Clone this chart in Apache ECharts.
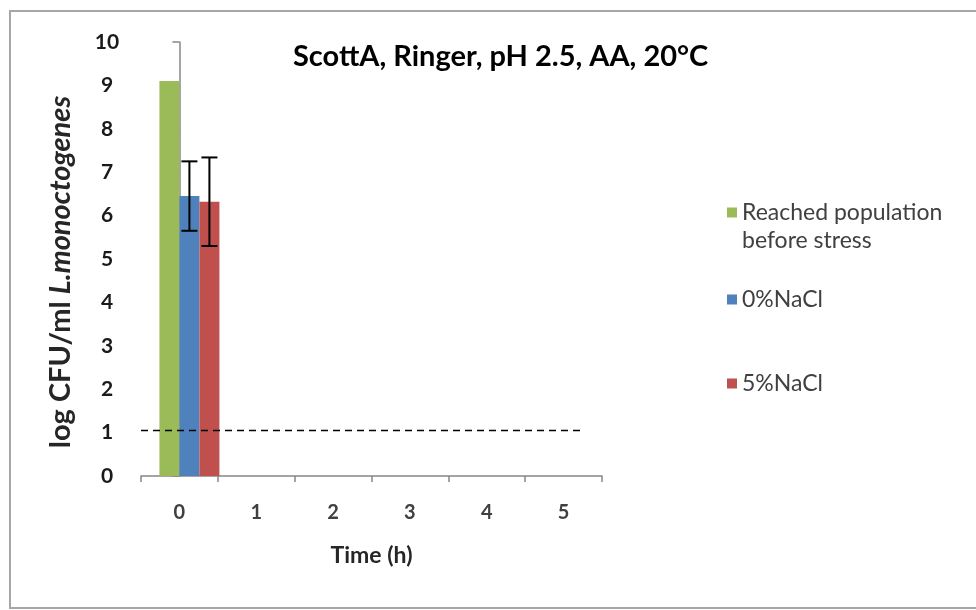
<!DOCTYPE html>
<html>
<head>
<meta charset="utf-8">
<script src="https://cdn.jsdelivr.net/npm/echarts@6/dist/echarts.min.js"></script>
<style>
  html, body { margin: 0; padding: 0; background: #ffffff; }
  #chart { width: 976px; height: 610px; }
</style>
</head>
<body>
<div id="chart"></div>
<script>
// Sampling times (h) on the category axis
const timeLabels = ['0', '1', '2', '3', '4', '5'];

// Series names as shown in the legend
const seriesNames = ['Reached population before stress', '0%NaCl', '5%NaCl'];

// log CFU/ml per sampling time (null = below detection, no bar)
const beforeStress = [9.1, null, null, null, null, null];
const nacl0 = [6.45, null, null, null, null, null];
const nacl5 = [6.32, null, null, null, null, null];

// Standard deviations for the stressed populations
const nacl0Err = [0.8, null, null, null, null, null];
const nacl5Err = [1.02, null, null, null, null, null];

// Detection limit (log CFU/ml) and the time span the dashed line covers
const detectionLimit = 1.05;
const limitSpan = [-0.5, 5.24];

// Y axis range
const yMin = 0, yMax = 10, yStep = 1;

const FONT = 'Lato, "Open Sans", sans-serif';
const BAR_W = 20;
const COLORS = ['#9bbb59', '#4f81bd', '#c0504d'];

const chart = echarts.init(document.getElementById('chart'), null, { renderer: 'canvas' });

// Error bars centred on a given bar slot of the four-slot cluster
function errorBarSeries(values, errs, slot) {
  const data = [];
  values.forEach((v, i) => {
    if (v != null && errs[i] != null) data.push([i, v, errs[i]]);
  });
  const offset = BAR_W * (slot - 1.5);
  return {
    type: 'custom',
    xAxisIndex: 0,
    yAxisIndex: 0,
    silent: true,
    z: 5,
    data: data,
    renderItem: function (params, api) {
      const i = api.value(0), m = api.value(1), e = api.value(2);
      const top = api.coord([i, m + e]);
      const bot = api.coord([i, m - e]);
      const x = top[0] + offset;
      const cap = 8;
      const style = { stroke: '#000000', lineWidth: 2 };
      return {
        type: 'group',
        children: [
          { type: 'line', shape: { x1: x, y1: top[1], x2: x, y2: bot[1] }, style: style },
          { type: 'line', shape: { x1: x - cap, y1: top[1], x2: x + cap, y2: top[1] }, style: style },
          { type: 'line', shape: { x1: x - cap, y1: bot[1], x2: x + cap, y2: bot[1] }, style: style }
        ]
      };
    }
  };
}

// One legend block per series; multi-line labels keep the swatch beside the first line
function legendBox(name, iconCenterY, lines) {
  const LH = 28;
  const text = lines.length > 1
    ? '{t|}\n' + lines.map(l => '{t|' + l + '}').join('\n')
    : '{t|' + lines[0] + '}';
  const rows = lines.length > 1 ? lines.length + 1 : 1;
  // the label block is centred on the swatch
  const blockTop = iconCenterY - (rows * LH) / 2;
  return {
    data: [name],
    orient: 'vertical',
    left: 727,
    top: Math.round(blockTop),
    padding: 0,
    icon: 'rect',
    itemWidth: 10,
    itemHeight: 10,
    selectedMode: false,
    formatter: function () { return text; },
    textStyle: {
      rich: {
        t: { fontFamily: FONT, fontSize: 23, color: '#404040', lineHeight: LH }
      }
    }
  };
}

const option = {
  backgroundColor: '#ffffff',
  animation: false,
  title: {
    text: 'ScottA, Ringer, pH 2.5, AA, 20°C',
    left: 293,
    top: 42,
    padding: 0,
    textStyle: { fontFamily: FONT, fontSize: 29, fontWeight: 'bold', color: '#000000' }
  },
  legend: [
    legendBox(seriesNames[0], 215, ['Reached population', 'before stress']),
    legendBox(seriesNames[1], 302, [seriesNames[1]]),
    legendBox(seriesNames[2], 386, [seriesNames[2]])
  ],
  grid: { left: 141, top: 42, width: 461, height: 434, containLabel: false },
  xAxis: [
    {
      type: 'category',
      data: timeLabels,
      name: 'Time (h)',
      nameLocation: 'middle',
      nameGap: 68,
      nameTextStyle: { fontFamily: FONT, fontSize: 23, fontWeight: 'bold', color: '#262626' },
      axisLine: { lineStyle: { color: '#868686', width: 1.5 } },
      axisTick: { show: true, length: 6, lineStyle: { color: '#868686', width: 1.5 } },
      axisLabel: { margin: 27, fontFamily: FONT, fontSize: 20, fontWeight: 'bold', color: '#404040' },
      splitLine: { show: false }
    },
    {
      type: 'value',
      min: -0.5,
      max: 5.5,
      show: false
    }
  ],
  yAxis: {
    type: 'value',
    min: yMin,
    max: yMax,
    interval: yStep,
    name: '{a|log CFU/ml }{b|L.monoctogenes}',
    nameLocation: 'middle',
    nameGap: 66,
    nameRotate: 90,
    nameTextStyle: {
      padding: [0, 26, 0, 0],
      rich: {
        a: { fontFamily: FONT, fontSize: 29, fontWeight: 'bold', color: '#262626' },
        b: { fontFamily: FONT, fontSize: 29, fontWeight: 'bold', fontStyle: 'italic', color: '#262626' }
      }
    },
    axisLine: { show: true, lineStyle: { color: '#868686', width: 1.5 } },
    axisTick: { show: true, length: 7, lineStyle: { color: '#868686', width: 1.5 } },
    axisLabel: { margin: 34, align: 'center', fontFamily: FONT, fontSize: 21, fontWeight: 'bold', color: '#1a1a1a' },
    splitLine: { show: false }
  },
  series: [
    {
      // empty leading slot of the cluster
      name: '',
      type: 'bar',
      data: timeLabels.map(() => null),
      barWidth: BAR_W,
      barGap: '0%',
      silent: true
    },
    { name: seriesNames[0], type: 'bar', data: beforeStress, barWidth: BAR_W, barGap: '0%', itemStyle: { color: COLORS[0] } },
    { name: seriesNames[1], type: 'bar', data: nacl0, barWidth: BAR_W, barGap: '0%', itemStyle: { color: COLORS[1] } },
    { name: seriesNames[2], type: 'bar', data: nacl5, barWidth: BAR_W, barGap: '0%', itemStyle: { color: COLORS[2] } },
    errorBarSeries(nacl0, nacl0Err, 2),
    errorBarSeries(nacl5, nacl5Err, 3),
    {
      name: 'Detection limit',
      type: 'line',
      xAxisIndex: 1,
      yAxisIndex: 0,
      data: [[limitSpan[0], detectionLimit], [limitSpan[1], detectionLimit]],
      symbol: 'none',
      silent: true,
      z: 6,
      lineStyle: { color: '#000000', width: 1.5, type: [7, 5] }
    }
  ],
  graphic: [
    {
      type: 'rect',
      silent: true,
      shape: { x: 10, y: 11, width: 980, height: 597 },
      style: { fill: 'none', stroke: '#a6a6a6', lineWidth: 2 }
    }
  ]
};

chart.setOption(option);
</script>
</body>
</html>
